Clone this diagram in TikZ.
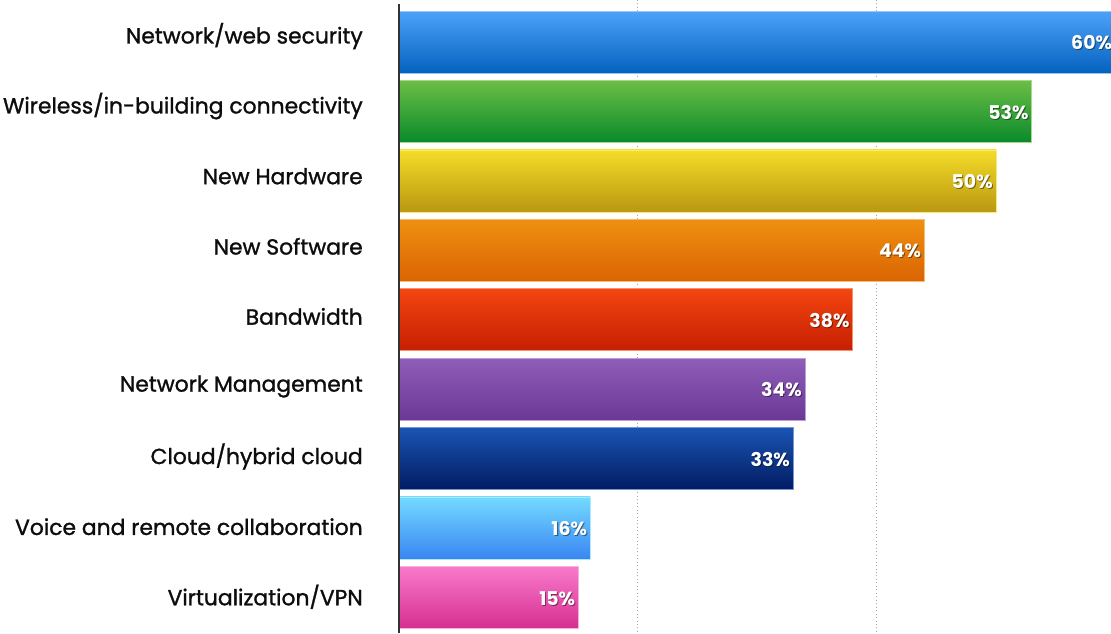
\documentclass[tikz,border=0pt]{standalone}
\usepackage{fontspec}
\setmainfont{Poppins}
\newfontfamily\catfont[FakeBold=1.2]{Poppins}
\usetikzlibrary{calc}

\definecolor{blueT}{HTML}{4DA2F7}   \definecolor{blueB}{HTML}{0462BF}
\definecolor{greenT}{HTML}{6CBE45}  \definecolor{greenB}{HTML}{098A2B}
\definecolor{yellowT}{HTML}{F4DC28} \definecolor{yellowB}{HTML}{BA9811}
\definecolor{orangeT}{HTML}{EF9010} \definecolor{orangeB}{HTML}{DB6403}
\definecolor{redT}{HTML}{F34610}    \definecolor{redB}{HTML}{C61E02}
\definecolor{purpleT}{HTML}{8F5EB8} \definecolor{purpleB}{HTML}{6B3896}
\definecolor{navyT}{HTML}{1A54B3}   \definecolor{navyB}{HTML}{021C63}
\definecolor{skyT}{HTML}{73DBFF}    \definecolor{skyB}{HTML}{3A86F2}
\definecolor{pinkT}{HTML}{F87ACB}   \definecolor{pinkB}{HTML}{D62F91}

\begin{document}
\begin{tikzpicture}[x=0.75pt,y=-0.75pt,
    cat/.style={anchor=east,inner sep=0pt,font=\catfont\fontsize{16.4}{18}\selectfont,text=black!95},
    pct/.style={anchor=east,inner sep=0pt,font=\bfseries\fontsize{14.2}{16}\selectfont,text=white},
    shadow/.style={pct,text=black,opacity=0.45},
    bar/.style={anchor=west,rectangle,inner sep=0pt,minimum height=46.5pt},
    gridline/.style={draw=gray!70,dotted,line width=0.6pt}]

    \useasboundingbox[fill=white] (0,0) rectangle (1111,633);

    \def\pxper{11.93}
    \pgfmathsetmacro{\pitch}{69.4}
    \pgfmathsetmacro{\catpitch}{70.1}

    \foreach \g in {20,40} {
      \draw[gridline] ({399+\g*\pxper},0) -- ({399+\g*\pxper},633);
    }

    \foreach \i/\v/\c/\name in {1/60/blue/Network\slash web security,
                                2/53/green/Wireless\slash in-building connectivity,
                                3/50/yellow/New Hardware,
                                4/44/orange/New Software,
                                5/38/red/Bandwidth,
                                6/34/purple/Network Management,
                                7/33/navy/Cloud\slash hybrid cloud,
                                8/16/sky/Voice and remote collaboration,
                                9/15/pink/Virtualization\slash VPN} {
      \pgfmathsetmacro{\yc}{42+(\i-1)*\pitch}
      \pgfmathsetmacro{\yl}{36+(\i-1)*\catpitch}
      \pgfmathsetmacro{\w}{\v*\pxper*0.75}
      \node[bar,minimum width=\w pt,top color=\c T,bottom color=\c B,
            draw=\c T!60!white,line width=0.4pt] (bar\i) at (399,\yc) {};
      \node[cat] (cat\i) at (363,\yl) {\name};
      \node[shadow] at ($(bar\i.east)+(-2,2)$) {\v\%};
      \node[pct] (pct\i) at ($(bar\i.east)+(-3,1)$) {\v\%};
    }

    \draw[black!80,line width=1.1pt] (399,4) -- (399,633);

\end{tikzpicture}
\end{document}
